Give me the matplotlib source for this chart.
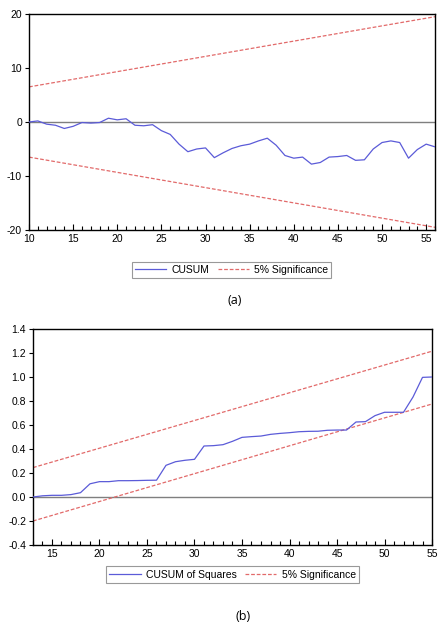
import numpy as np
import matplotlib
matplotlib.use('Agg')
import matplotlib.pyplot as plt
from matplotlib.ticker import MultipleLocator, FormatStrFormatter

plt.rcParams['font.family'] = ['Liberation Sans', 'DejaVu Sans']
plt.rcParams['axes.unicode_minus'] = False

# panel (a): CUSUM
cusum_t = list(range(10, 57))
cusum = [0.0, 0.2, -0.4, -0.6, -1.2, -0.8, -0.1, -0.2, -0.1, 0.7,
         0.4, 0.6, -0.6, -0.7, -0.5, -1.6, -2.3, -4.1, -5.5, -5.0,
         -4.8, -6.6, -5.7, -4.9, -4.4, -4.1, -3.5, -3.0, -4.3, -6.2,
         -6.7, -6.5, -7.8, -7.5, -6.5, -6.4, -6.2, -7.1, -7.0, -5.0,
         -3.8, -3.5, -3.8, -6.7, -5.1, -4.1, -4.6]
cusum_bound_t = [10, 56]
cusum_upper = [6.5, 19.5]
cusum_lower = [-6.5, -19.5]

# panel (b): CUSUM of squares
sq_t = list(range(13, 56))
cusum_sq = [0.0, 0.01, 0.014, 0.014, 0.02, 0.036, 0.11, 0.128, 0.128, 0.136,
            0.136, 0.137, 0.139, 0.14, 0.264, 0.294, 0.306, 0.314, 0.425, 0.428,
            0.436, 0.464, 0.497, 0.503, 0.508, 0.522, 0.53, 0.536, 0.544, 0.547,
            0.548, 0.556, 0.558, 0.558, 0.625, 0.628, 0.678, 0.706, 0.706, 0.706,
            0.833, 0.997, 1.0]
sq_bound_t = [13, 55]
sq_upper = [0.245, 1.215]
sq_lower = [-0.2, 0.775]

blue = '#5b5bd8'
red = '#e26a6a'
zero_grey = '#7f7f7f'

fig = plt.figure(figsize=(4.4, 6.29), dpi=100)
ax1 = fig.add_axes([29/440, 1-230/629, 406/440, 216/629])
ax2 = fig.add_axes([33/440, 1-545/629, 399/440, 216/629])


def style_axes(ax):
    for spine in ax.spines.values():
        spine.set_linewidth(1.0)
        spine.set_color('black')
    ax.xaxis.set_major_locator(MultipleLocator(5))
    ax.xaxis.set_minor_locator(MultipleLocator(1))
    ax.tick_params(axis='x', which='major', direction='in', length=4, width=0.8,
                   labelsize=7.5, pad=3, top=False)
    ax.tick_params(axis='x', which='minor', direction='in', length=3, width=0.8, top=False)
    ax.tick_params(axis='y', which='major', direction='out', length=3, width=0.8,
                   labelsize=7.5, pad=2, right=False)
    ax.axhline(0, color=zero_grey, lw=1.0, zorder=1)


def add_legend(handles, labels, cx, cy):
    leg = fig.legend(handles, labels, loc='center',
                     bbox_to_anchor=(cx/440, 1-cy/629), ncol=2, fontsize=7.5,
                     frameon=True, fancybox=False, edgecolor='#808080',
                     handlelength=3.0, columnspacing=0.8, handletextpad=0.5,
                     borderpad=0.3, borderaxespad=0)
    leg.get_frame().set_linewidth(0.8)
    return leg


# (a)
l1, = ax1.plot(cusum_t, cusum, color=blue, lw=0.9, zorder=3)
l2, = ax1.plot(cusum_bound_t, cusum_upper, color=red, lw=0.9, ls=(0, (3, 1.5)), zorder=2)
ax1.plot(cusum_bound_t, cusum_lower, color=red, lw=0.9, ls=(0, (3, 1.5)), zorder=2)
ax1.set_xlim(10, 56)
ax1.set_ylim(-20, 20)
ax1.yaxis.set_major_locator(MultipleLocator(10))
style_axes(ax1)

add_legend([l1, l2], ['CUSUM', '5% Significance'], 231.5, 270)
fig.text(235/440, 1-300/629, '(a)', ha='center', va='center', fontsize=9,
         family=['Open Sans', 'DejaVu Sans'])

# (b)
m1, = ax2.plot(sq_t, cusum_sq, color=blue, lw=0.9, zorder=3)
m2, = ax2.plot(sq_bound_t, sq_upper, color=red, lw=0.9, ls=(0, (3, 1.5)), zorder=2)
ax2.plot(sq_bound_t, sq_lower, color=red, lw=0.9, ls=(0, (3, 1.5)), zorder=2)
ax2.set_xlim(13, 55)
ax2.set_ylim(-0.4, 1.4)
ax2.yaxis.set_major_locator(MultipleLocator(0.2))
ax2.yaxis.set_major_formatter(FormatStrFormatter('%.1f'))
style_axes(ax2)

add_legend([m1, m2], ['CUSUM of Squares', '5% Significance'], 232.5, 574.5)
fig.text(243/440, 1-617/629, '(b)', ha='center', va='center', fontsize=9,
         family=['Open Sans', 'DejaVu Sans'])

fig.savefig('out.png', dpi=100)
